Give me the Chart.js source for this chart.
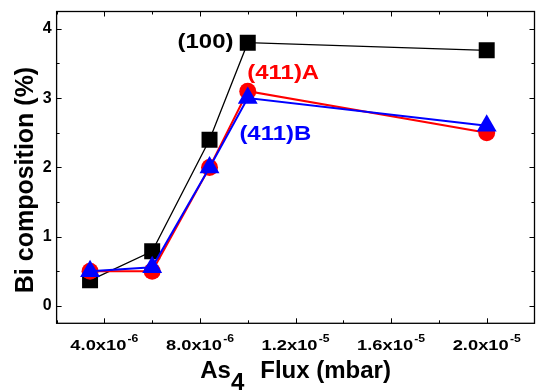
<!DOCTYPE html>
<html>
<head>
<meta charset="utf-8">
<script src="https://cdn.jsdelivr.net/npm/chart.js@4"></script>
<style>
html, body { margin: 0; padding: 0; background: #fff; overflow: hidden; }
#wrap { position: relative; width: 546px; height: 392px; }
</style>
</head>
<body>
<div id="wrap"><canvas id="chart"></canvas></div>
<script>
// As4 flux (mbar) and Bi composition (%) for each substrate
const flux = [3.4e-6, 6.0e-6, 8.4e-6, 1.0e-5, 2.0e-5];
const bi100 = [0.37, 0.79, 2.40, 3.80, 3.69];
const bi411A = [0.50, 0.50, 2.00, 3.10, 2.50];
const bi411B = [0.50, 0.56, 2.00, 3.00, 2.60];

const seriesNames = ['(100)', '(411)A', '(411)B'];
const xTicks = [4e-6, 8e-6, 1.2e-5, 1.6e-5, 2e-5];
const xTickLabels = ['4.0x10^-6', '8.0x10^-6', '1.2x10^-5', '1.6x10^-5', '2.0x10^-5'];
const yTicks = [0, 1, 2, 3, 4];

const FONT = '"Liberation Sans", Arial, sans-serif';

function pts(ys) {
    return flux.map((f, i) => ({x: f, y: ys[i]}));
}

function drawText(ctx, text, x, y, size, sx, align) {
    ctx.font = 'bold ' + size + 'px ' + FONT;
    const w = ctx.measureText(text).width * sx;
    let x0 = x;
    if (align === 'center') x0 = x - w / 2;
    if (align === 'right') x0 = x - w;
    ctx.save();
    ctx.translate(x0, y);
    ctx.scale(sx, 1);
    ctx.textAlign = 'left';
    ctx.textBaseline = 'alphabetic';
    ctx.fillText(text, 0, 0);
    ctx.restore();
    return w;
}

const frame = {
    id: 'frame',
    afterDraw(chart) {
        const ctx = chart.ctx;
        const a = chart.chartArea;
        const x = chart.scales.x, y = chart.scales.y;
        ctx.save();
        ctx.strokeStyle = '#000';
        ctx.lineWidth = 1.3;
        ctx.strokeRect(a.left, a.top, a.right - a.left, a.bottom - a.top);

        // inward ticks on all four sides
        ctx.lineWidth = 1;
        ctx.beginPath();
        for (let i = 1; i <= 10; i++) {
            const px = Math.round(x.getPixelForValue(i * 2e-6)) + 0.5;
            const len = i % 2 === 0 ? 5 : 3;
            ctx.moveTo(px, a.bottom); ctx.lineTo(px, a.bottom - len);
            ctx.moveTo(px, a.top); ctx.lineTo(px, a.top + len);
        }
        for (let i = 0; i <= 8; i++) {
            const py = Math.round(y.getPixelForValue(i * 0.5)) + 0.5;
            const len = i % 2 === 0 ? 5 : 3;
            ctx.moveTo(a.left, py); ctx.lineTo(a.left + len, py);
            ctx.moveTo(a.right, py); ctx.lineTo(a.right - len, py);
        }
        ctx.stroke();

        // x tick labels with superscript exponent
        ctx.fillStyle = '#000';
        const sx = 1.22;
        xTicks.forEach((v, i) => {
            const [main, sup] = xTickLabels[i].split('^');
            ctx.font = 'bold 15px ' + FONT;
            const mw = ctx.measureText(main).width;
            ctx.font = 'bold 10px ' + FONT;
            const sw = ctx.measureText(sup).width;
            const total = (mw + 1 + sw) * sx;
            const x0 = x.getPixelForValue(v) - total / 2;
            drawText(ctx, main, x0, 350, 15, sx, 'left');
            drawText(ctx, sup, x0 + (mw + 1) * sx, 342, 10, sx, 'left');
        });

        // x title with subscript
        ctx.font = 'bold 24px ' + FONT;
        const wAs = ctx.measureText('As').width;
        const w4 = ctx.measureText('4').width;
        const wFl = ctx.measureText('Flux (mbar)').width;
        const gap = 16;
        const tot = wAs + w4 + gap + wFl;
        let tx = (a.left + a.right) / 2 - tot / 2;
        drawText(ctx, 'As', tx, 378, 24, 1, 'left');
        drawText(ctx, '4', tx + wAs, 390, 24, 1, 'left');
        drawText(ctx, 'Flux (mbar)', tx + wAs + w4 + gap, 378, 24, 1, 'left');

        // y title
        ctx.save();
        ctx.translate(33, 180);
        ctx.rotate(-Math.PI / 2);
        drawText(ctx, 'Bi composition (%)', 0, 0, 25, 1, 'center');
        ctx.restore();

        // series labels
        ctx.fillStyle = '#000000';
        drawText(ctx, seriesNames[0], x.getPixelForValue(9.40e-6), y.getPixelForValue(3.73), 21, 1.14, 'right');
        ctx.fillStyle = '#ff0000';
        drawText(ctx, seriesNames[1], x.getPixelForValue(9.98e-6), y.getPixelForValue(3.28), 21, 1.14, 'left');
        ctx.fillStyle = '#0000ff';
        drawText(ctx, seriesNames[2], x.getPixelForValue(9.65e-6), y.getPixelForValue(2.40), 21, 1.14, 'left');
        ctx.restore();
    }
};

const ctx = document.getElementById('chart').getContext('2d');

const myChart = new Chart(ctx, {
    type: 'line',
    data: {
        datasets: [
            {
                label: seriesNames[0],
                data: pts(bi100),
                borderColor: '#000000',
                backgroundColor: '#000000',
                borderWidth: 1.3,
                pointStyle: 'rect',
                pointRadius: 11.3,
                pointBorderWidth: 0,
                order: 3,
            },
            {
                label: seriesNames[1],
                data: pts(bi411A),
                borderColor: '#ff0000',
                backgroundColor: '#ff0000',
                borderWidth: 2,
                pointStyle: 'circle',
                pointRadius: 8.5,
                pointBorderWidth: 0,
                order: 2,
            },
            {
                label: seriesNames[2],
                data: pts(bi411B),
                borderColor: '#0000ff',
                backgroundColor: '#0000ff',
                borderWidth: 2,
                pointStyle: 'triangle',
                pointRadius: 11.5,
                pointBorderWidth: 0,
                order: 1,
            },
        ],
    },
    options: {
        responsive: true,
        maintainAspectRatio: false,
        animation: false,
        events: [],
        layout: {
            padding: {left: 0, right: 5.1, top: 8, bottom: 68.7}
        },
        plugins: {
            legend: {display: false},
            tooltip: {enabled: false},
        },
        scales: {
            x: {
                type: 'linear',
                display: false,
                min: 2e-6,
                max: 2.2e-5,
            },
            y: {
                type: 'linear',
                min: -0.25,
                max: 4.25,
                grid: {display: false, drawTicks: false, tickLength: 0},
                border: {display: false},
                ticks: {
                    color: '#000',
                    padding: 5,
                    font: {family: FONT, size: 16, weight: 'bold'},
                },
                afterBuildTicks: (scale) => {
                    scale.ticks = yTicks.map(v => ({value: v}));
                },
                afterFit: (scale) => {
                    scale.width = 56.6;
                    scale.paddingTop = 0;
                    scale.paddingBottom = 0;
                },
            },
        },
    },
    plugins: [frame],
});
</script>
</body>
</html>
